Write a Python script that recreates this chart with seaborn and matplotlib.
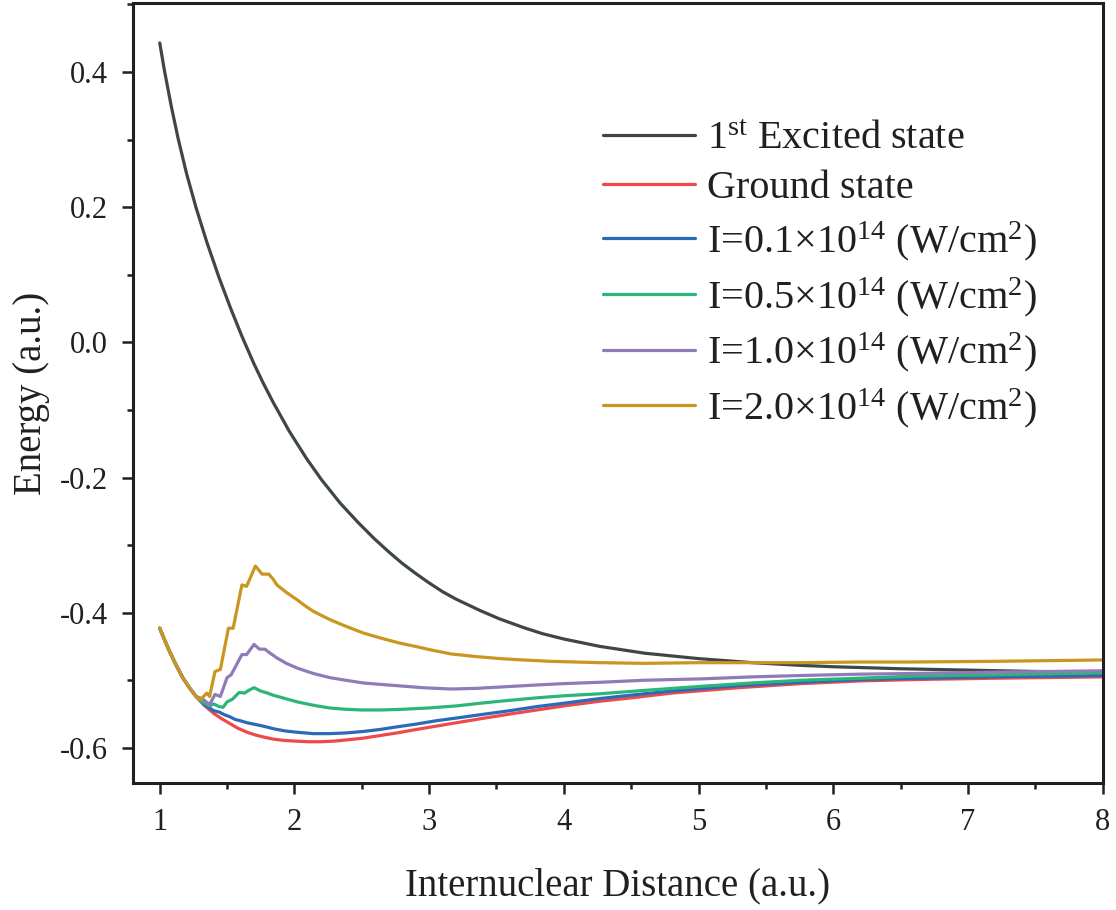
import matplotlib
matplotlib.use("Agg")
import matplotlib.pyplot as plt
import seaborn as sns
from matplotlib.ticker import MultipleLocator

# ---------------- data ----------------
x_excited = [1.00, 1.035, 1.085, 1.136, 1.20, 1.27, 1.35, 1.44, 1.525, 1.61, 1.70, 1.77, 1.84, 1.96,
             2.09, 2.20, 2.34, 2.47, 2.59, 2.70, 2.80, 2.90, 3.00, 3.10, 3.20, 3.38, 3.52,
             3.70, 3.84, 4.00, 4.27, 4.60, 5.00, 5.40, 5.76, 6.00, 6.50, 7.00, 7.50, 8.00]
y_excited = [0.443, 0.402, 0.350, 0.302, 0.249, 0.199, 0.148, 0.096, 0.051, 0.009, -0.032, -0.061, -0.088, -0.131,
             -0.172, -0.203, -0.238, -0.266, -0.290, -0.310, -0.327, -0.342, -0.356, -0.369, -0.380, -0.397, -0.409,
             -0.422, -0.431, -0.439, -0.450, -0.460, -0.468, -0.474, -0.478, -0.480, -0.483, -0.485, -0.487, -0.488]

x_ground = [1.00, 1.035, 1.07, 1.12, 1.17, 1.22, 1.27, 1.33, 1.40, 1.46, 1.52, 1.58, 1.65, 1.71,
            1.77, 1.84, 1.92, 2.00, 2.10, 2.20, 2.30, 2.40, 2.50, 2.63, 2.76, 2.90, 3.05, 3.20,
            3.38, 3.60, 3.80, 4.00, 4.27, 4.55, 4.80, 5.05, 5.30, 5.76, 6.20, 6.60, 7.20, 8.00]
y_ground = [-0.423, -0.440, -0.456, -0.477, -0.496, -0.511, -0.524, -0.537, -0.549, -0.557, -0.564, -0.571, -0.577, -0.581,
            -0.584, -0.587, -0.589, -0.590, -0.591, -0.591, -0.590, -0.588, -0.586, -0.582, -0.578, -0.573, -0.568, -0.563,
            -0.557, -0.550, -0.544, -0.538, -0.531, -0.525, -0.519, -0.515, -0.511, -0.505, -0.501, -0.499, -0.497, -0.495]

x_i01 = [1.00, 1.035, 1.07, 1.12, 1.17, 1.22, 1.27, 1.30, 1.33, 1.37, 1.40, 1.44, 1.48, 1.52, 1.56, 1.60,
         1.65, 1.70, 1.77, 1.85, 1.93, 2.02, 2.14, 2.26, 2.38, 2.50, 2.63, 2.76, 2.90, 3.05, 3.20,
         3.38, 3.60, 3.80, 4.00, 4.27, 4.55, 4.80, 5.05, 5.30, 5.76, 6.20, 6.60, 7.20, 8.00]
y_i01 = [-0.423, -0.440, -0.456, -0.477, -0.496, -0.511, -0.524, -0.530, -0.536, -0.541, -0.545, -0.547, -0.551, -0.554, -0.558, -0.560,
         -0.563, -0.565, -0.568, -0.572, -0.575, -0.577, -0.579, -0.579, -0.578, -0.576, -0.573, -0.569, -0.565, -0.560, -0.556,
         -0.551, -0.545, -0.539, -0.534, -0.527, -0.521, -0.516, -0.512, -0.508, -0.503, -0.499, -0.497, -0.495, -0.493]

x_i05 = [1.00, 1.035, 1.07, 1.12, 1.17, 1.22, 1.27, 1.30, 1.33, 1.37, 1.40, 1.44, 1.47, 1.50, 1.54, 1.59,
         1.63, 1.66, 1.70, 1.75, 1.80, 1.84, 1.93, 2.02, 2.14, 2.26, 2.38, 2.50, 2.64, 2.80, 3.00,
         3.20, 3.38, 3.53, 3.80, 4.00, 4.27, 4.60, 5.02, 5.40, 5.76, 6.20, 6.60, 7.20, 8.00]
y_i05 = [-0.423, -0.440, -0.456, -0.477, -0.496, -0.511, -0.524, -0.530, -0.534, -0.538, -0.535, -0.539, -0.540, -0.532, -0.528, -0.518,
         -0.519, -0.515, -0.511, -0.516, -0.519, -0.522, -0.527, -0.532, -0.537, -0.541, -0.543, -0.544, -0.544, -0.543, -0.541,
         -0.538, -0.534, -0.531, -0.526, -0.523, -0.520, -0.515, -0.509, -0.504, -0.500, -0.497, -0.494, -0.492, -0.489]

x_i10 = [1.00, 1.035, 1.07, 1.12, 1.17, 1.22, 1.27, 1.32, 1.37, 1.41, 1.45, 1.50, 1.53, 1.61, 1.645,
         1.70, 1.74, 1.78, 1.82, 1.87, 1.94, 2.02, 2.14, 2.26, 2.38, 2.51, 2.63, 2.76, 2.95, 3.16,
         3.35, 3.53, 3.80, 4.00, 4.27, 4.60, 5.02, 5.40, 5.76, 6.20, 6.60, 7.20, 8.00]
y_i10 = [-0.423, -0.440, -0.456, -0.477, -0.496, -0.511, -0.524, -0.528, -0.536, -0.521, -0.524, -0.496, -0.492, -0.462, -0.462,
         -0.447, -0.454, -0.454, -0.460, -0.467, -0.475, -0.482, -0.490, -0.496, -0.500, -0.504, -0.506, -0.508, -0.511, -0.513,
         -0.512, -0.510, -0.507, -0.505, -0.503, -0.500, -0.498, -0.495, -0.493, -0.491, -0.490, -0.488, -0.486]

x_i20 = [1.00, 1.035, 1.07, 1.12, 1.17, 1.22, 1.27, 1.30, 1.35, 1.37, 1.41, 1.45, 1.51, 1.545, 1.61, 1.645,
         1.71, 1.76, 1.81, 1.84, 1.87, 1.94, 2.02, 2.08, 2.14, 2.20, 2.26, 2.38, 2.51, 2.63, 2.78,
         2.90, 3.01, 3.16, 3.35, 3.53, 3.70, 3.90, 4.27, 4.60, 5.00, 5.40, 5.76, 6.20, 6.60, 7.20, 8.00]
y_i20 = [-0.423, -0.440, -0.456, -0.477, -0.496, -0.511, -0.524, -0.529, -0.519, -0.524, -0.487, -0.484, -0.423, -0.423, -0.359, -0.361,
         -0.331, -0.343, -0.343, -0.350, -0.359, -0.370, -0.381, -0.390, -0.398, -0.404, -0.410, -0.420, -0.430, -0.437, -0.445,
         -0.450, -0.455, -0.461, -0.465, -0.468, -0.470, -0.472, -0.474, -0.475, -0.474, -0.474, -0.474, -0.473, -0.473, -0.472, -0.470]

series_labels = [r"1$^{\mathrm{st}}$ Excited state",
                 "Ground state",
                 r"I=0.1×10$^{14}$ (W/cm$^{2}$)",
                 r"I=0.5×10$^{14}$ (W/cm$^{2}$)",
                 r"I=1.0×10$^{14}$ (W/cm$^{2}$)",
                 r"I=2.0×10$^{14}$ (W/cm$^{2}$)"]
series_colors = ["#3f4646", "#ee4a4c", "#2a6ab8", "#2bb579", "#8f7bb8", "#c9961f"]

x_ticks = [1, 2, 3, 4, 5, 6, 7, 8]
y_ticks = [-0.6, -0.4, -0.2, 0.0, 0.2, 0.4]

# ---------------- style ----------------
sns.set_theme(style="white")
plt.rcParams["font.family"] = ["Liberation Serif", "DejaVu Serif"]
plt.rcParams["mathtext.fontset"] = "custom"
plt.rcParams["mathtext.rm"] = "Liberation Serif"
plt.rcParams["mathtext.it"] = "Liberation Serif:italic"
plt.rcParams["axes.unicode_minus"] = False

fig = plt.figure(figsize=(11.16, 9.10), dpi=100)
ax = fig.add_axes([0.119, 0.1396, 0.869, 0.857])

xs = [x_excited, x_ground, x_i01, x_i05, x_i10, x_i20]
ys = [y_excited, y_ground, y_i01, y_i05, y_i10, y_i20]
for xv, yv, lab, col in zip(xs, ys, series_labels, series_colors):
    sns.lineplot(x=xv, y=yv, ax=ax, color=col, linewidth=2.3, label=lab,
                 estimator=None, sort=False)

ax.set_xlim(0.8, 8.0)
ax.set_ylim(-0.652, 0.502)
ax.set_xticks(x_ticks)
ax.set_yticks(y_ticks)
ax.set_xticklabels([str(v) for v in x_ticks])
ax.set_yticklabels([f"{v:.1f}" for v in y_ticks])
ax.xaxis.set_minor_locator(MultipleLocator(0.5))
ax.yaxis.set_minor_locator(MultipleLocator(0.1))
ax.tick_params(axis="both", which="major", direction="out", length=8, width=1.8,
               labelsize=22, color="#231f20", labelcolor="#231f20",
               bottom=True, left=True, top=False, right=False, pad=10)
ax.tick_params(axis="both", which="minor", direction="out", length=4.5, width=1.8,
               color="#231f20", bottom=True, left=True, top=False, right=False)
for sp in ax.spines.values():
    sp.set_linewidth(2.2)
    sp.set_color("#231f20")

ax.set_xlabel("Internuclear Distance (a.u.)", fontsize=28, color="#231f20", labelpad=22)
ax.set_ylabel("Energy (a.u.)", fontsize=28, color="#231f20", labelpad=7)

leg = ax.legend(loc="upper left", bbox_to_anchor=(0.468, 0.870), frameon=False,
                fontsize=29, handlelength=2.28, handletextpad=0.3,
                labelspacing=0.3, borderaxespad=0)
for line in leg.get_lines():
    line.set_linewidth(2.3)
for t in leg.get_texts():
    t.set_color("#231f20")

fig.savefig("out.png", dpi=100)
